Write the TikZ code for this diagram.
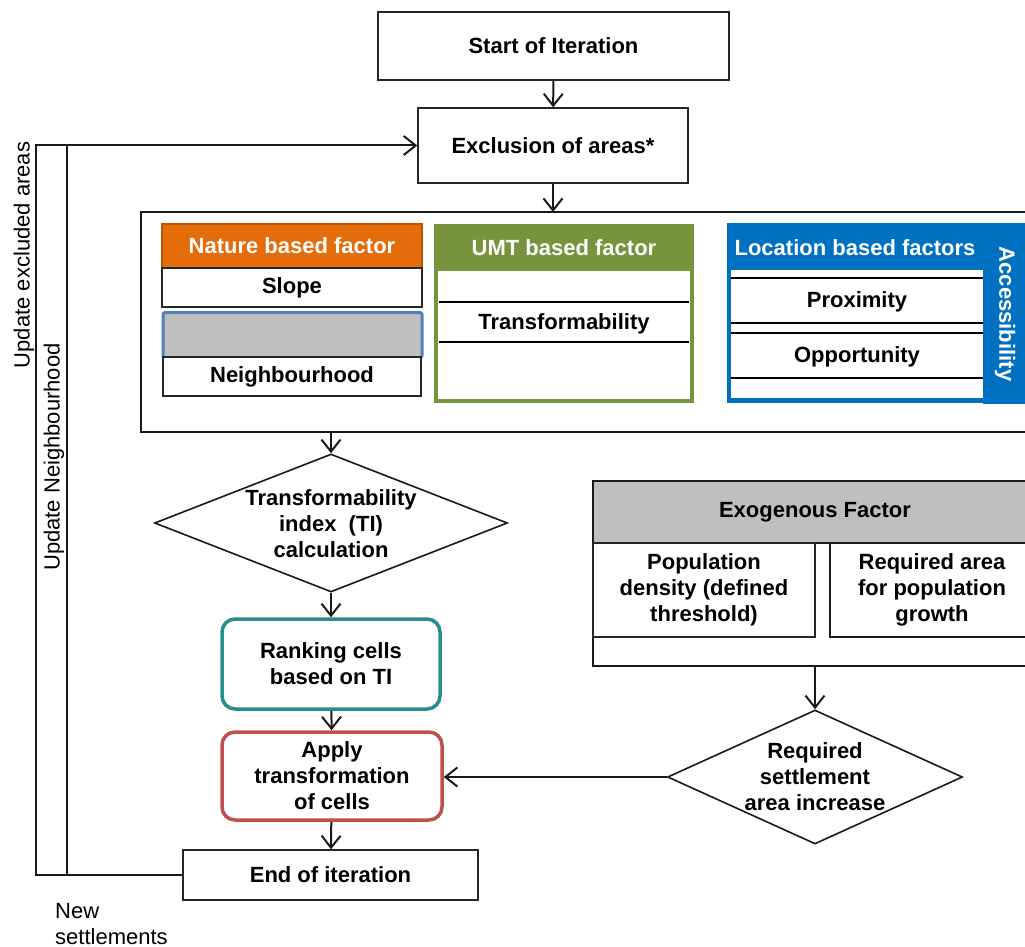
\documentclass[tikz,border=0pt]{standalone}
\usepackage{fontspec}
\setmainfont{Liberation Sans}
\usetikzlibrary{arrows.meta,shapes.geometric}
\definecolor{natO}{HTML}{E46C0A}
\definecolor{natOd}{HTML}{B65708}
\definecolor{umtG}{HTML}{77933C}
\definecolor{locB}{HTML}{0070C0}
\definecolor{grayF}{HTML}{BFBFBF}
\definecolor{blueB}{HTML}{4F81BD}
\definecolor{tealB}{HTML}{2A8C8C}
\definecolor{redB}{HTML}{C0504D}
\begin{document}
\begin{tikzpicture}[x=1pt,y=-1pt,
  every node/.style={font=\fontsize{22}{26}\selectfont, inner sep=0pt, align=center},
  bt/.style={font=\fontsize{22}{26}\selectfont\bfseries},
  bx/.style={draw=black!85, line width=1.4pt, fill=white, bt},
  ln/.style={line width=2pt, draw=black!90},
  arr/.style={line width=2pt, draw=black!90, -{Straight Barb[length=12pt,width=19pt,line width=2pt]}},
  dia/.style={draw=black!90, line width=1.6pt, shape=diamond, fill=white, inner sep=0pt},
  rbox/.style={draw=#1, line width=3.5pt, rounded corners=13pt, fill=white, bt},
  inl/.style={line width=2pt, draw=black},
  wt/.style={bt, text=white},
  ]
\useasboundingbox (0,0) rectangle (1025,947);

% --- top flow
\node[bx, minimum width=351pt, minimum height=68pt] (start) at (553.5,46) {Start of Iteration};
\node[bx, minimum width=270pt, minimum height=75pt] (excl) at (553,145.5) {Exclusion of areas*};

% --- big factor frame (open to the right)
\coordinate (ftop) at (553,212);
\coordinate (fbot) at (331,432);
\draw[ln, line width=1.4pt] (1025,212) -- (141,212) -- (141,432) -- (1025,432);

% Nature based factor
\node[fill=natO, draw=natOd, line width=1.3pt, minimum width=260pt, minimum height=44pt, wt] (nath) at (292,246) {Nature based factor};
\node[bx, minimum width=260pt, minimum height=39pt] (slope) at (292,287.5) {Slope};
\node[fill=grayF, draw=blueB, line width=3pt, rounded corners=2pt, minimum width=259pt, minimum height=45pt] (grayb) at (292.5,335) {};
\node[bx, minimum width=258pt, minimum height=39pt, line width=2pt] (neigh) at (292,376.5) {Neighbourhood};

% UMT based factor
\node[draw=umtG, fill=white, line width=4pt, minimum width=256pt, minimum height=175pt] (umt) at (564,313.5) {};
\node[fill=umtG, minimum width=258pt, minimum height=46pt, wt] (umth) at (564,248) {UMT based factor};
\draw[inl] (439,302) -- (689,302);
\draw[inl] (439,342) -- (689,342);
\node[bt] (transf) at (564,324) {Transformability};

% Location based factors
\node[fill=locB, draw=locB, line width=1pt, minimum width=256pt, minimum height=179pt] (loc) at (855,312.5) {};
\fill[white] (731,270) rectangle (983,398);
\node[wt] (loch) at (855,248) {Location based factors};
\draw[inl] (731,278) -- (983,278);
\draw[inl] (731,323) -- (983,323);
\draw[inl] (731,333) -- (983,333);
\draw[inl] (731,378) -- (983,378);
\node[bt] (prox) at (857,302) {Proximity};
\node[bt] (oppo) at (857,357) {Opportunity};
\fill[locB] (983,223) rectangle (1025,404);
\node[wt, rotate=-90] (acc) at (1005,314) {Accessibility};

% --- TI chain
\node[dia, minimum width=353pt, minimum height=138pt] (ti) at (331,523) {};
\node[bt] (tit) at (331,524) {Transformability\\index~ (TI)\\calculation};
\node[rbox=tealB, minimum width=218pt, minimum height=90pt] (rank) at (331,664) {Ranking cells\\based on TI};
\node[rbox=redB, minimum width=220pt, minimum height=88pt] (apply) at (332,776) {Apply\\transformation\\of cells};
\node[bx, minimum width=295pt, minimum height=50pt] (fin) at (330.5,875) {End of iteration};

% --- Exogenous factor (open to the right)
\fill[grayF] (593,481) rectangle (1025,543);
\draw[ln, line width=1.4pt] (1025,481) -- (593,481) -- (593,666) -- (1025,666);
\draw[ln, line width=1.4pt] (593,543) -- (1025,543);
\node[bt] (exot) at (815,512) {Exogenous Factor};
\node[bx, minimum width=222pt, minimum height=94pt] (popd) at (704,590) {Population\\density (defined\\threshold)};
\draw[ln, line width=1.4pt] (1025,543) -- (830,543) -- (830,637) -- (1025,637);
\node[bt] (reqa) at (932,590) {Required area\\for population\\growth};
\coordinate (exob) at (815,666);

\node[dia, minimum width=295pt, minimum height=134pt] (req) at (815,777) {};
\node[bt] (reqt) at (815,777) {Required\\settlement\\area increase};

% --- connectors
\draw[arr] (start) -- (excl);
\draw[arr] (excl) -- (ftop);
\draw[arr] (fbot) -- (ti.north);
\draw[arr] (ti.south) -- (rank);
\draw[arr] (rank) -- (apply);
\draw[arr] (apply) -- (fin);
\draw[arr] (exob) -- (req.north);
\draw[arr] (req.west) -- (apply.east |- req.west);

% --- feedback loops
\coordinate (outx) at (36,0);
\coordinate (inx) at (67,0);
\draw[arr] (fin.west) -- (fin.west -| outx) |- (excl.west);
\draw[ln] (fin.west -| inx) -- (excl.west -| inx);
\node[rotate=90] (lab1) at (24,255) {Update excluded areas};
\node[rotate=90] (lab2) at (54,457) {Update Neighbourhood};
\node[align=left, anchor=north west] (news) at (55,903) {New\\settlements};
\end{tikzpicture}
\end{document}
